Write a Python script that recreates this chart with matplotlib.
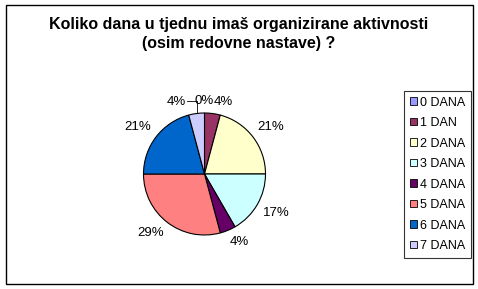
import matplotlib
matplotlib.use("Agg")
import matplotlib.pyplot as plt
from matplotlib.patches import Rectangle
import numpy as np

plt.rcParams['font.family'] = ['Liberation Sans', 'DejaVu Sans']

# Survey answers: number of pupils per count of days with organised activities
categories = ['0 DANA', '1 DAN', '2 DANA', '3 DANA', '4 DANA', '5 DANA', '6 DANA', '7 DANA']
counts = [0, 1, 5, 4, 1, 7, 5, 1]
colors = ['#9999FF', '#993366', '#FFFFCC', '#CCFFFF', '#660066', '#FF8080', '#0066CC', '#CCCCFF']
title = 'Koliko dana u tjednu imaš organizirane aktivnosti\n(osim redovne nastave) ?'

W, H = 478, 289
fig = plt.figure(figsize=(W / 100, H / 100), dpi=100)
fig.patch.set_facecolor('white')

# axes in pixel units so the pie can be placed precisely
ax = fig.add_axes([0, 0, 1, 1])

cx, cy, R = 204.5, H - 174, 61
wedges, _ = ax.pie(counts, colors=colors, startangle=90, counterclock=False,
                   center=(cx, cy), radius=R, frame=True,
                   wedgeprops=dict(edgecolor='black', linewidth=0.8))
ax.set_xlim(0, W)
ax.set_ylim(0, H)
ax.set_aspect('equal')
ax.axis('off')

total = sum(counts)
# percentage labels just outside each wedge
nudge = {7: (-10, 0)}
for i, (w, c) in enumerate(zip(wedges, counts)):
    mid = np.deg2rad((w.theta1 + w.theta2) / 2)
    ca, sa = np.cos(mid), np.sin(mid)
    d = R + 6
    x, y = cx + d * ca, cy + d * sa
    ha = 'left' if ca > 0.1 else ('right' if ca < -0.1 else 'center')
    va = 'bottom' if sa > 0.1 else ('top' if sa < -0.1 else 'center')
    dx, dy = nudge.get(i, (0, 0))
    pct = f'{round(100 * c / total):d}%'
    ax.text(x + dx, y + dy, pct, ha=ha, va=va, fontsize=9.5, color='black')
    if i in nudge:
        # leader line from the moved label to its wedge
        ex, ey = cx + R * ca, cy + R * sa
        lx = x + dx + 1
        ly = y + dy + 7
        ax.plot([lx, ex, ex], [ly, ly, ey + 2], color='black', lw=0.6)

fig.text(239 / W, 1 - 34 / H, title, ha='center', va='center',
         fontsize=11.5, fontweight='bold', linespacing=1.3)

leg = fig.legend(wedges, categories, loc='upper left',
                 bbox_to_anchor=(404 / W, 1 - 91 / H),
                 fontsize=9, frameon=True, fancybox=False, shadow=False,
                 handlelength=0.55, handleheight=0.55, handletextpad=0.25,
                 labelspacing=0.68, borderpad=0.45, borderaxespad=0)
leg.get_frame().set_edgecolor('black')
leg.get_frame().set_linewidth(0.8)
for h in leg.legend_handles:
    h.set_edgecolor('black')
    h.set_linewidth(0.6)

# outer chart border
fig.patches.append(Rectangle((6 / W, 1 - 284 / H), 467 / W, 279 / H,
                             transform=fig.transFigure, fill=False,
                             edgecolor='black', linewidth=1.0))

fig.savefig('out.png', dpi=100)
